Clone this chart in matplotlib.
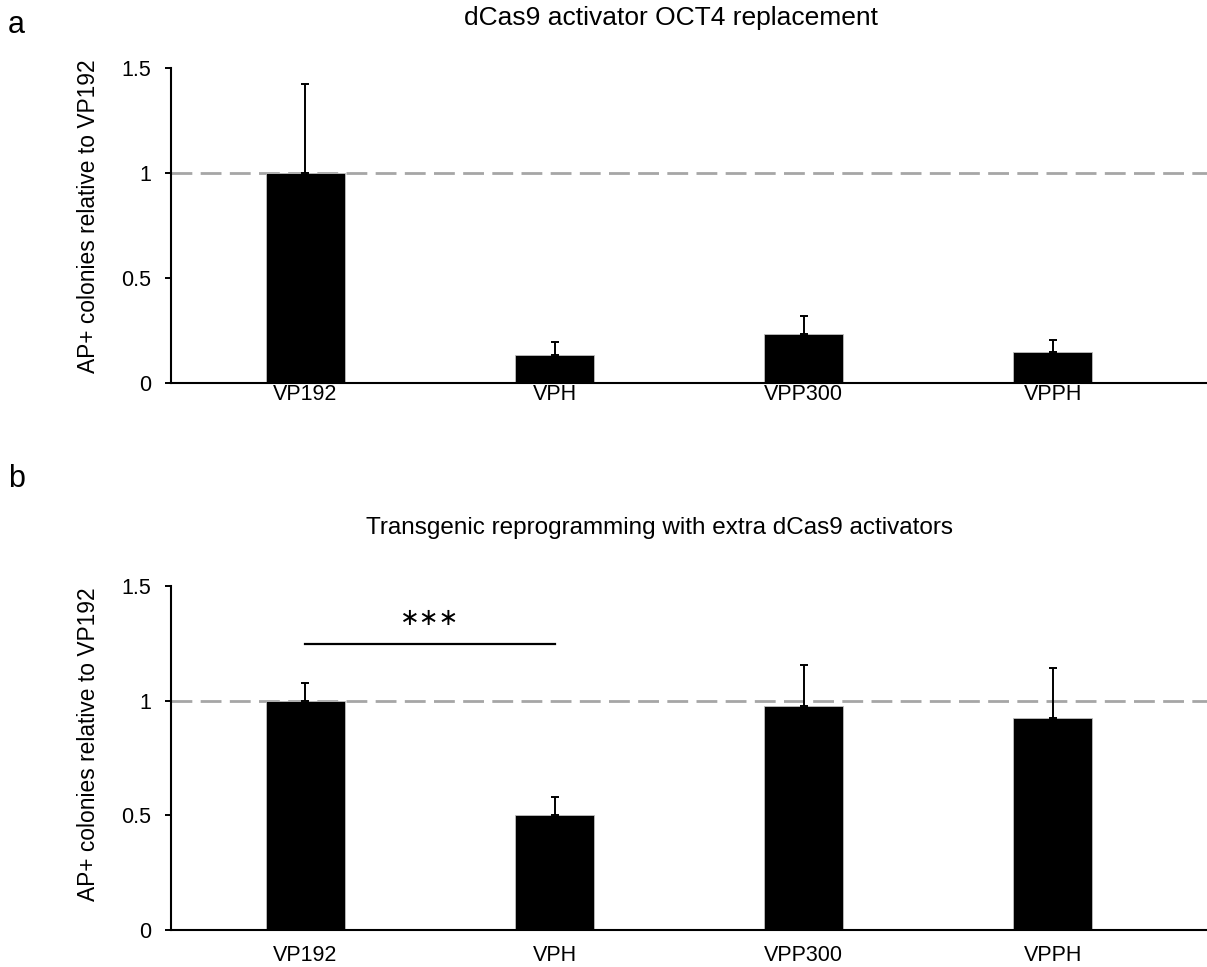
import numpy as np
import matplotlib
matplotlib.use("Agg")
import matplotlib.pyplot as plt

plt.rcParams['font.family'] = ['Liberation Sans', 'DejaVu Sans']

categories = ["VP192", "VPH", "VPP300", "VPPH"]

# panel a: dCas9 activator OCT4 replacement
oct4_mean = [1.0, 0.135, 0.233, 0.149]
oct4_err = [0.424, 0.059, 0.086, 0.056]

# panel b: transgenic reprogramming with extra dCas9 activators
trans_mean = [1.0, 0.50, 0.978, 0.926]
trans_err = [0.077, 0.079, 0.179, 0.217]

yticks = [0, 0.5, 1, 1.5]
ytick_labels = ["0", "0.5", "1", "1.5"]

W, H = 1207, 967
fig = plt.figure(figsize=(W / 100, H / 100), dpi=100)


def px_axes(left, bottom, right, top):
    return fig.add_axes([left / W, 1 - bottom / H, (right - left) / W, (bottom - top) / H])


def draw_panel(ax, means, errs, xpad):
    x = np.arange(len(categories))
    ax.bar(x, means, width=0.32, color="black", edgecolor="#bfbfbf", linewidth=0.6, zorder=2)
    ax.errorbar(x, means, yerr=[np.zeros(len(errs)), errs], fmt="none",
                ecolor="black", elinewidth=1.4, capsize=3, capthick=1.4, zorder=3)
    ax.axhline(1, color="#a6a6a6", linewidth=2, dashes=(7.5, 3), zorder=1)
    ax.set_xlim(-0.54, 3.62)
    ax.set_ylim(0, 1.5)
    ax.set_xticks(x)
    ax.set_xticklabels(categories, fontsize=15.5)
    ax.set_yticks(yticks)
    ax.set_yticklabels(ytick_labels, fontsize=15.5)
    ax.tick_params(axis="x", length=0, pad=xpad)
    ax.tick_params(axis="y", length=4, width=1.4, pad=10, direction="out")
    for s in ["top", "right"]:
        ax.spines[s].set_visible(False)
    for s in ["left", "bottom"]:
        ax.spines[s].set_linewidth(1.5)
    ax.spines["bottom"].set_zorder(4)
    ax.set_ylabel("AP+ colonies relative to VP192", fontsize=16.4)
    ax.yaxis.label.set_va("center")


ax_a = px_axes(171, 383, 1207, 68)
draw_panel(ax_a, oct4_mean, oct4_err, xpad=1)
ax_a.yaxis.set_label_coords(-0.080, 0.53)

ax_b = px_axes(171, 930, 1207, 586)
draw_panel(ax_b, trans_mean, trans_err, xpad=11)
ax_b.yaxis.set_label_coords(-0.080, 0.54)

# significance bar between VP192 and VPH
ax_b.plot([0, 1], [1.245, 1.245], color="black", linewidth=1.6)
ax_b.text(0.5, 1.36, "\u2217\u2217\u2217", ha="center", va="center", fontsize=17,
          family="DejaVu Sans")

fig.text(671 / W, 1 - 18 / H, "dCas9 activator OCT4 replacement",
         ha="center", va="center", fontsize=19)
fig.text(660 / W, 1 - 528 / H, "Transgenic reprogramming with extra dCas9 activators",
         ha="center", va="center", fontsize=17.5)
fig.text(8 / W, 1 - 33 / H, "a", ha="left", va="baseline", fontsize=22)
fig.text(8 / W, 1 - 487 / H, "b", ha="left", va="baseline", fontsize=22)

fig.savefig("out.png", dpi=100, facecolor="white")
